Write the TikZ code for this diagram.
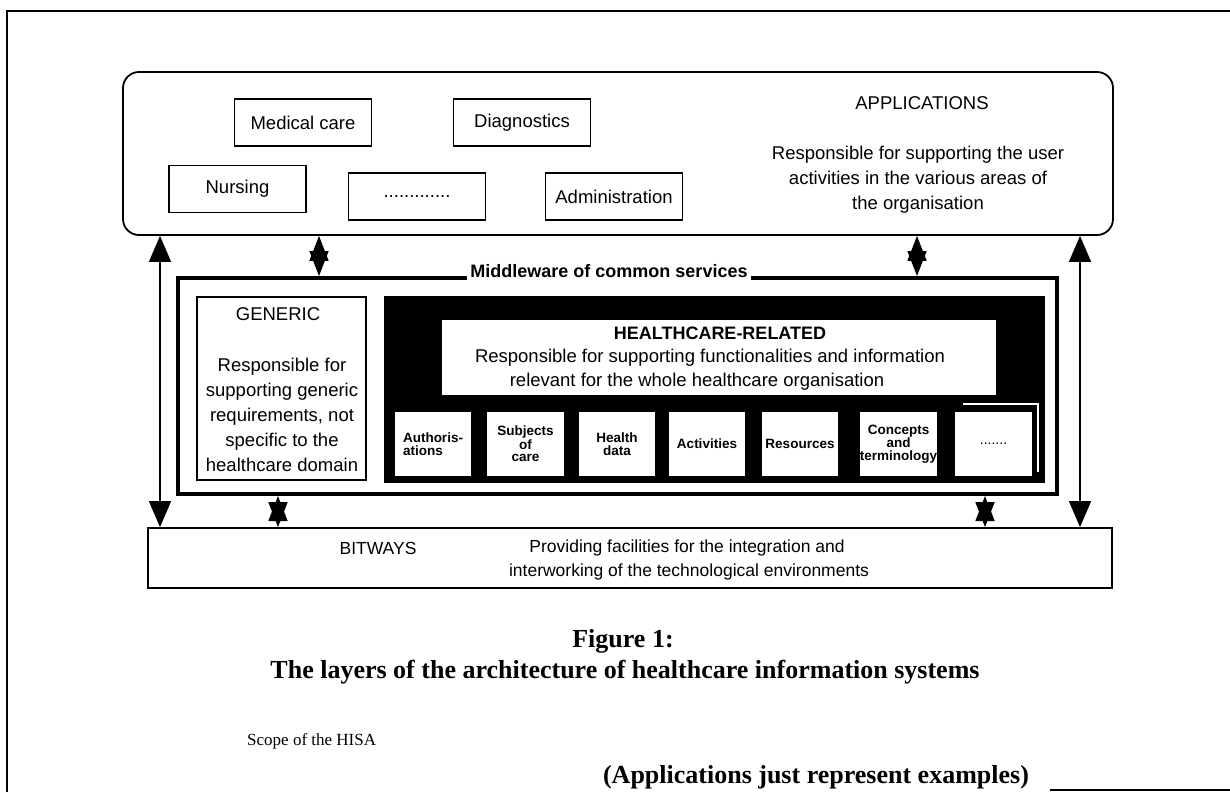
\documentclass[tikz,border=0pt]{standalone}
\usepackage{fontspec}
\setmainfont{Liberation Serif}
\setsansfont{Liberation Sans}
\usetikzlibrary{arrows.meta}

\begin{document}
\begin{tikzpicture}[x=1pt, y=-1pt,
		every node/.style={inner sep=0pt, font=\sffamily\fontsize{18.5}{25}\selectfont},
		appbox/.style={draw, line width=1.8pt, minimum width=137pt, minimum height=47pt},
		subbox/.style={draw, fill=white, line width=1.2pt, minimum width=78pt, minimum height=66pt, font=\sffamily\bfseries\fontsize{13.5}{12.5}\selectfont},
		bigarrow/.style={line width=1.5pt, {Triangle[length=26pt,width=22pt]}-{Triangle[length=26pt,width=22pt]}},
		smallarrow/.style={line width=1.5pt, {Triangle[length=25pt,width=19pt]}-{Triangle[length=25pt,width=19pt]}},
		caption/.style={font=\rmfamily\bfseries\fontsize{26}{30}\selectfont}]
		\useasboundingbox (0,0) rectangle (1230,792);
		
		% Рамка
		\draw[line width=1.5pt] (7,792) -- (7,11) -- (1230,11);
		\draw[line width=1.2pt] (1050,790) -- (1230,790);
		
		% Приложения
		\node[draw, line width=1.8pt, rounded corners=16pt, minimum width=990pt, minimum height=163pt] (apps) at (618,153.5) {};
		\node[appbox] (medcare) at (303,122.5) {Medical care};
		\node[appbox] (diagn) at (522,122.5) {Diagnostics};
		\node[appbox] (nursing) at (237.5,189) {Nursing};
		\node[appbox] (etc) at (417,196.5) {.............};
		\node[appbox] (admin) at (614,196.5) {Administration};
		\node (appstitle) at (922,103) {APPLICATIONS};
		\node[align=center] (appstext) at (918,179.5) {Responsible for supporting the user\\activities in the various areas of\\the organisation};
		
		% Промежуточный слой
		\node[draw, line width=4pt, minimum width=879pt, minimum height=216pt] (mw) at (617.5,386) {};
		\node[fill=white, inner xsep=3pt, inner ysep=2pt, font=\sffamily\bfseries\fontsize{18}{20}\selectfont] (mwtitle) at (609,271) {Middleware of common services\hspace{10pt}};
		
		\node[draw, line width=2.5pt, minimum width=169pt, minimum height=183pt] (generic) at (281.5,388.5) {};
		\node (gentitle) at (278,314) {GENERIC};
		\node[align=center] (gentext) at (282,415) {Responsible for\\supporting generic\\requirements, not\\specific to the\\healthcare domain};
		
		\node[draw, fill=black, minimum width=660pt, minimum height=186pt] (hc) at (714,389) {};
		\node[fill=white, minimum width=554pt, minimum height=75pt] (hcinner) at (719,357.5) {};
		\node[font=\sffamily\bfseries\fontsize{18}{20}\selectfont] (hctitle) at (720,333) {HEALTHCARE-RELATED};
		\node (hcline1) at (710,358) {Responsible for supporting functionalities and information};
		\node (hcline2) at (697,382) {relevant for the whole healthcare organisation};
		
		\draw[white, line width=1.5pt] (963,404) -- (1038,404) -- (1038,472);
		\node[subbox, align=left] (auth) at (433,444) {Authoris-\\ations};
		\node[subbox, align=center] (subj) at (525.5,444) {Subjects\\of\\care};
		\node[subbox, align=center] (hdata) at (617,444) {Health\\data};
		\node[subbox] (activ) at (707,444) {Activities};
		\node[subbox] (resour) at (800,444) {Resources};
		\node[subbox, align=center] (concept) at (898.5,444) {Concepts\\and\\terminology};
		\node[subbox, font=\sffamily\fontsize{14}{12.5}\selectfont] (more) at (993.5,444) {.......};
		
		% Битвеи
		\node[draw, line width=1.8pt, minimum width=964pt, minimum height=60pt] (bitways) at (630,558) {};
		\node[font=\sffamily\fontsize{17.5}{20}\selectfont] (bwtitle) at (378,548) {BITWAYS};
		\node[font=\sffamily\fontsize{17.5}{20}\selectfont] (bwline1) at (687,548) {Providing facilities for the integration and};
		\node[font=\sffamily\fontsize{17.5}{20}\selectfont] (bwline2) at (689,572) {interworking of the technological environments};
		
		% Стрелки
		\coordinate (a1) at (160,0);
		\coordinate (a2) at (1080,0);
		\coordinate (a3) at (319,0);
		\coordinate (a4) at (917,0);
		\coordinate (a5) at (278,0);
		\coordinate (a6) at (985,0);
		\draw[bigarrow] (apps.south -| a1) -- (bitways.north -| a1);
		\draw[bigarrow] (apps.south -| a2) -- (bitways.north -| a2);
		\draw[smallarrow] (apps.south -| a3) -- (mw.north -| a3);
		\draw[smallarrow] (apps.south -| a4) -- (mw.north -| a4);
		\draw[smallarrow] (mw.south -| a5) -- (bitways.north -| a5);
		\draw[smallarrow] (mw.south -| a6) -- (bitways.north -| a6);
		
		% Подпись
		\node[caption] (fig) at (623,641) {Figure 1:};
		\node[caption] (figtext) at (625,672) {The layers of the architecture of healthcare information systems};
		\node[anchor=west, font=\rmfamily\fontsize{17}{20}\selectfont] (scope) at (247,741) {Scope of the HISA};
		\node[caption] (examples) at (816,777) {(Applications just represent examples)};
	\end{tikzpicture}
\end{document}
